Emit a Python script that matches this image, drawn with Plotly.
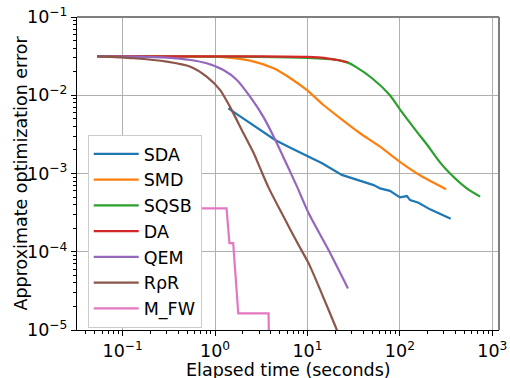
import plotly.graph_objects as go

# ---- data ----
SDA_t = [1.39, 1.7, 2.1, 2.71, 3.5, 4.46, 6.2, 9.4, 14.4, 23.5, 37, 52, 61, 78, 100, 119, 129, 159, 212, 272, 322, 355]
SDA_y = [0.0068, 0.0058, 0.0049, 0.0040, 0.0032, 0.00268, 0.0022, 0.00172, 0.00135, 0.00096, 0.00080, 0.00071,
         0.000645, 0.00060, 0.000495, 0.000515, 0.000457, 0.000423, 0.000348, 0.000303, 0.00028, 0.000264]

SMD_t = [0.053, 0.2, 0.54, 1.23, 2.39, 4.35, 6.3, 9.8, 14.9, 22.5, 37, 61, 100, 165, 316]
SMD_y = [0.0313, 0.0313, 0.0311, 0.0307, 0.0277, 0.0220, 0.0170, 0.0117, 0.0075, 0.0051, 0.00327, 0.0022,
         0.00141, 0.00095, 0.00063]

SQSB_t = [0.053, 0.3, 1, 3, 10, 20, 27, 33, 50, 78, 100, 124, 150, 196, 270, 349, 530, 738]
SQSB_y = [0.0313, 0.0313, 0.0312, 0.0310, 0.0301, 0.0286, 0.0263, 0.0232, 0.0165, 0.0100, 0.0066, 0.0047,
          0.0035, 0.00235, 0.0014, 0.0010, 0.000645, 0.000506]

DA_t = [0.053, 0.3, 1, 3, 10, 13, 17, 21, 27.2]
DA_y = [0.0314, 0.0314, 0.0314, 0.0313, 0.0309, 0.0304, 0.0294, 0.0282, 0.0263]

QEM_t = [0.053, 0.13, 0.3, 0.54, 0.81, 1.23, 1.72, 2.39, 3.33, 4.47, 5.97, 7.7, 10.3, 16.9, 27.4]
QEM_y = [0.0313, 0.0311, 0.0302, 0.0282, 0.0256, 0.0210, 0.0157, 0.0096, 0.0053, 0.0027, 0.00130, 0.00068,
         0.00031, 0.000105, 0.000034]

RPR_t = [0.053, 0.13, 0.3, 0.54, 0.81, 1.13, 1.45, 2.02, 2.6, 3.07, 3.79, 5.27, 8.0, 10.3, 14.3, 20.8, 24]
RPR_y = [0.0313, 0.0297, 0.0269, 0.0232, 0.0173, 0.0117, 0.0071, 0.0033, 0.00185, 0.00117, 0.00066, 0.00031,
         0.000122, 0.000071, 0.000029, 0.00001, 0.0000065]

MFW_t = [0.6, 1.33, 1.43, 1.57, 1.78, 3.79, 3.92]
MFW_y = [3.59e-4, 3.59e-4, 1.29e-4, 1.29e-4, 1.63e-5, 1.63e-5, 1e-6]

names = ["SDA", "SMD", "SQSB", "DA", "QEM", "RρR", "M_FW"]
colors = ["#1f77b4", "#ff7f0e", "#2ca02c", "#d62728", "#9467bd", "#8c564b", "#e377c2"]

x_ticks = [0.1, 1, 10, 100, 1000]
x_ticktext = ["10<sup>−1</sup>", "10<sup>0</sup>", "10<sup>1</sup>", "10<sup>2</sup>", "10<sup>3</sup>"]
y_ticks = [1e-5, 1e-4, 1e-3, 1e-2, 1e-1]
y_ticktext = ["10<sup>−5</sup>", "10<sup>−4</sup>", "10<sup>−3</sup>", "10<sup>−2</sup>", "10<sup>−1</sup>"]

series = [(SDA_t, SDA_y, "linear"), (SMD_t, SMD_y, "spline"), (SQSB_t, SQSB_y, "spline"),
          (DA_t, DA_y, "spline"), (QEM_t, QEM_y, "spline"), (RPR_t, RPR_y, "spline"),
          (MFW_t, MFW_y, "linear")]

FONT = "DejaVu Sans"
FS = 17.5

fig = go.Figure()
for (t, y, shape), name, c in zip(series, names, colors):
    line = dict(color=c, width=2.2, shape=shape)
    if shape == "spline":
        line["smoothing"] = 0.7
    fig.add_trace(go.Scatter(x=t, y=y, mode="lines", name=name, line=line))

minor_x = [m * 10.0 ** k for k in range(-2, 4) for m in range(2, 10)]
minor_y = [m * 10.0 ** k for k in range(-5, -1) for m in range(2, 10)]

axis_common = dict(
    type="log", tickmode="array",
    ticks="outside", ticklen=5, tickwidth=1.2, tickcolor="black",
    showgrid=True, gridcolor="#b0b0b0", gridwidth=1,
    showline=True, linecolor="black", linewidth=1.3, mirror=False,
    zeroline=False, automargin=False,
    tickfont=dict(family=FONT, size=FS, color="black"),
)

fig.update_layout(
    width=510, height=378,
    margin=dict(l=77, r=11, t=17, b=48, autoexpand=False),
    paper_bgcolor="white", plot_bgcolor="white",
    font=dict(family=FONT, size=FS, color="black"),
    showlegend=True,
    legend=dict(x=0.0254, y=0.623, xanchor="left", yanchor="top",
                bgcolor="white", bordercolor="#cccccc", borderwidth=1,
                itemwidth=45,
                font=dict(family=FONT, size=FS)),
    xaxis=dict(range=[-1.4946, 3.0725], tickvals=x_ticks, ticktext=x_ticktext,
               minor=dict(tickmode="array", tickvals=minor_x, ticks="outside",
                          ticklen=3, tickwidth=0.9, tickcolor="black", showgrid=False),
               **axis_common),
    yaxis=dict(range=[-5, -1], tickvals=y_ticks, ticktext=y_ticktext,
               minor=dict(tickmode="array", tickvals=minor_y, ticks="outside",
                          ticklen=3, tickwidth=0.9, tickcolor="black", showgrid=False),
               **axis_common),
    shapes=[
        dict(type="line", xref="paper", yref="paper", x0=0, x1=1, y0=1, y1=1,
             line=dict(color="#7f7f7f", width=2)),
        dict(type="line", xref="paper", yref="paper", x0=1, x1=1, y0=0, y1=1,
             line=dict(color="#7f7f7f", width=2)),
    ],
    annotations=[
        dict(text="Elapsed time (seconds)", xref="paper", yref="paper",
             x=0.5, y=-(358 - 330) / 313, xanchor="center", yanchor="top",
             showarrow=False, font=dict(family=FONT, size=FS)),
        dict(text="Approximate optimization error", xref="paper", yref="paper",
             x=(20 - 77) / 422, y=0.5, xanchor="center", yanchor="middle",
             textangle=-90, showarrow=False, font=dict(family=FONT, size=FS)),
    ],
)

fig.write_html("out.html",
               config={"displayModeBar": False},
               post_script="document.body.style.margin='0';document.body.style.padding='0';")
